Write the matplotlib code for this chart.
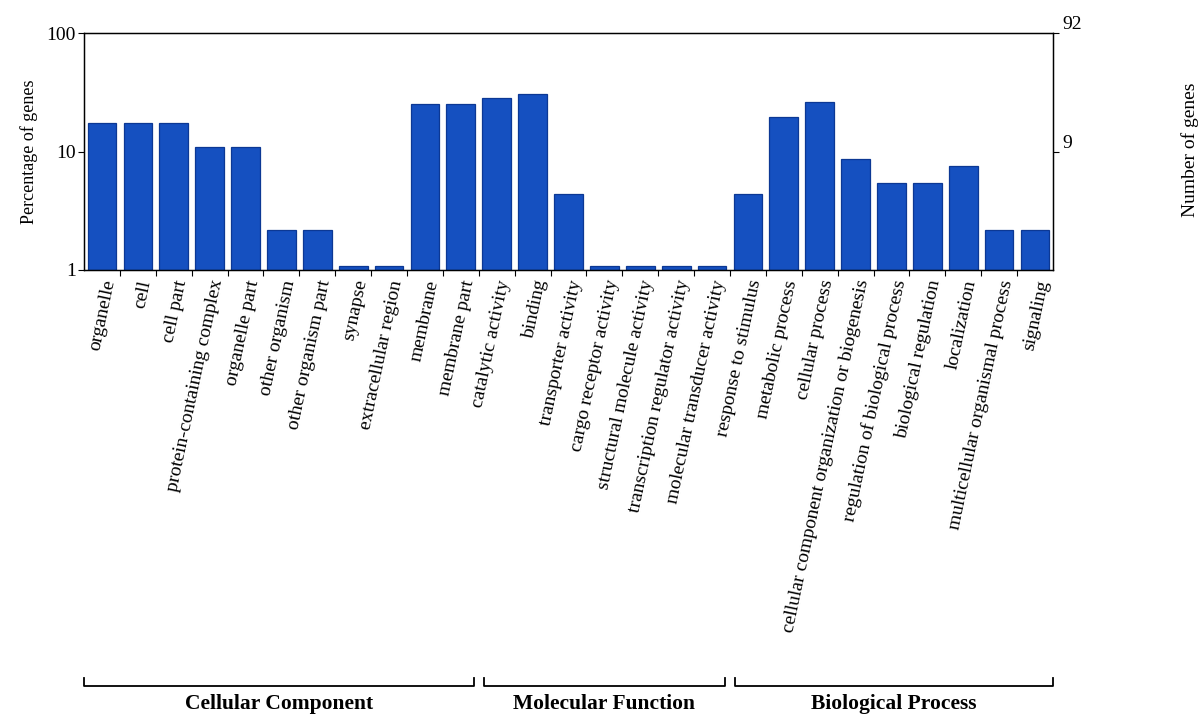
import matplotlib
matplotlib.use("Agg")
import matplotlib.pyplot as plt
from matplotlib.transforms import blended_transform_factory
from matplotlib.ticker import FixedLocator, NullFormatter

plt.rcParams["font.family"] = ["Liberation Serif", "DejaVu Serif"]

# GO term annotation: gene counts per term
categories = [
    "organelle", "cell", "cell part", "protein-containing complex",
    "organelle part", "other organism", "other organism part", "synapse",
    "extracellular region", "membrane", "membrane part",
    "catalytic activity", "binding", "transporter activity",
    "cargo receptor activity", "structural molecule activity",
    "transcription regulator activity", "molecular transducer activity",
    "response to stimulus", "metabolic process", "cellular process",
    "cellular component organization or biogenesis",
    "regulation of biological process", "biological regulation",
    "localization", "multicellular organismal process", "signaling",
]
gene_counts = [16, 16, 16, 10, 10, 2, 2, 1, 1, 23, 23,
               26, 28, 4, 1, 1, 1, 1,
               4, 18, 24, 8, 5, 5, 7, 2, 2]
total_genes = 92

groups = ["Cellular Component", "Molecular Function", "Biological Process"]
group_sizes = [11, 7, 9]

right_ticks = [9.2, 92]
right_tick_labels = ["9", "92"]

percent = [c / total_genes * 100 for c in gene_counts]

fig = plt.figure(figsize=(11.99, 7.15), dpi=100)
ax = fig.add_axes([0.0701, 0.6224, 0.8081, 0.3314])

x = list(range(len(categories)))
ax.bar(x, percent, width=0.8, color="#1550C0", edgecolor="#0C3894",
       linewidth=0.9, zorder=2)

ax.set_yscale("log")
ax.set_ylim(1, 100)
ax.set_xlim(-0.5, len(categories) - 0.5)
ax.set_yticks([1, 10, 100])
ax.set_yticklabels(["1", "10", "100"], fontsize=14)
ax.yaxis.set_minor_locator(FixedLocator([]))
ax.tick_params(axis="y", length=4, width=0.8, pad=2)
ax.set_ylabel("Percentage of genes", fontsize=13, labelpad=6)

ax.set_xticks(x)
ax.set_xticklabels(categories, rotation=78, ha="right", va="top",
                   rotation_mode="anchor", fontsize=14)
ax.tick_params(axis="x", which="major", length=0, pad=6)
ax.xaxis.set_minor_locator(FixedLocator([i + 0.5 for i in x[:-1]]))
ax.xaxis.set_minor_formatter(NullFormatter())
ax.tick_params(axis="x", which="minor", length=4, width=0.8)

for s in ax.spines.values():
    s.set_linewidth(1.0)

# secondary axis with gene counts
ax2 = ax.twinx()
ax2.set_yscale("log")
ax2.set_ylim(total_genes / 100, total_genes)
ax2.set_yticks(right_ticks)
ax2.set_yticklabels(right_tick_labels, fontsize=14, va="bottom")
ax2.yaxis.set_minor_locator(FixedLocator([]))
ax2.tick_params(axis="y", length=4, width=0.8, pad=3)
fig.text(0.9925, 0.79, "Number of genes", rotation=90, ha="center",
         va="center", fontsize=14)

# group brackets under the tick labels
trans = blended_transform_factory(ax.transData, fig.transFigure)
y_line, y_tip, y_text = 0.0406, 0.0517, 0.0154
start = 0
for gi, (name, size) in enumerate(zip(groups, group_sizes)):
    end = start + size - 1
    x0 = start - 0.5 if gi == 0 else start - 0.5 + 0.14
    x1 = end + 0.5 if gi == len(groups) - 1 else end + 0.5 - 0.14
    ax.plot([x0, x0, x1, x1], [y_tip, y_line, y_line, y_tip],
            transform=trans, color="black", lw=1.3, clip_on=False)
    ax.text((x0 + x1) / 2, y_text, name, transform=trans, ha="center",
            va="center", fontsize=15.5, fontweight="bold")
    start += size

fig.savefig("out.png", dpi=100, facecolor="white")
